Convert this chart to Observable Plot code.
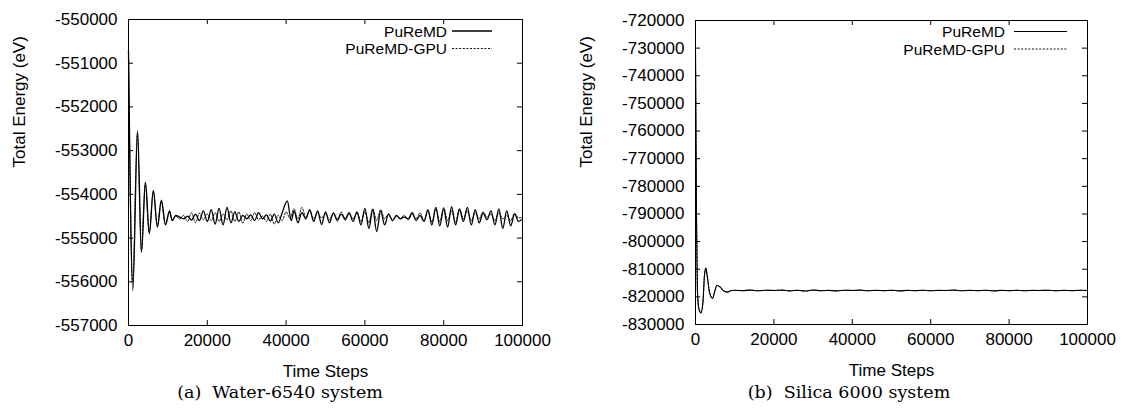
<!DOCTYPE html>
<html><head><meta charset="utf-8">
<script src="https://cdn.jsdelivr.net/npm/d3@7"></script>
<script src="https://cdn.jsdelivr.net/npm/@observablehq/plot@0.6"></script>
<style>
body{margin:0;background:#fff;}
#fig{position:relative;width:1124px;height:417px;overflow:hidden;background:#fff;}
.panel{position:absolute;top:0;width:562px;height:417px;}
.overlay{position:absolute;left:0;top:0;}
</style></head><body>
<div id="fig"></div>
<script>
// ---------- data ----------
const seriesNames = ["PuReMD", "PuReMD-GPU"];
const captions = ["(a)  Water-6540 system", "(b)  Silica 6000 system"];
const xLabel = "Time Steps";
const yLabel = "Total Energy (eV)";
const xTicks = [0, 20000, 40000, 60000, 80000, 100000];
const waterYTicks = [-557000, -556000, -555000, -554000, -553000, -552000, -551000, -550000];
const silicaYTicks = [-830000, -820000, -810000, -800000, -790000, -780000, -770000, -760000, -750000, -740000, -730000, -720000];

const waterSteps = [0, 1100, 2300, 3300, 4300, 5300, 6300, 7350, 8350, 9400, 10400, 11100,
  12000, 13000, 14000, 15000, 16000, 17000, 18000, 19000, 20000, 21000, 22000, 23000, 24000, 25000,
  26000, 27000, 28000, 29000, 30000, 31000, 32000, 33000, 34000, 35000, 36000, 37000, 38000, 39000,
  40300, 41300,
  42000, 43000, 44000, 45000, 46000, 47000, 48000, 49000, 50000, 51000, 52000, 53000, 54000, 55000,
  56000, 57000, 58000, 59000, 60000, 61000, 62000, 63000, 64000, 65000, 66000, 67000, 68000, 69000,
  70000, 71000, 72000, 73000, 74000, 75000, 76000, 77000, 78000, 79000, 80000, 81000, 82000, 83000,
  84000, 85000, 86000, 87000, 88000, 89000, 90000, 91000, 92000, 93000, 94000, 95000, 96000, 97000,
  98000, 99000, 100000];
const waterPuReMD = [-550700, -556200, -552550, -555330, -553720, -554900, -553910, -554750, -554130, -554700, -554380, -554600,
  -554480, -554520, -554560, -554500, -554590, -554450, -554600, -554380, -554620, -554350, -554680, -554320, -554700, -554300,
  -554650, -554400, -554620, -554480, -554560, -554470, -554600, -554420, -554560, -554470, -554610, -554450, -554650, -554420,
  -554150, -554600,
  -554380, -554650, -554420, -554560, -554350, -554620, -554380, -554690, -554400, -554650, -554430, -554580, -554450, -554560,
  -554420, -554620, -554400, -554700, -554320, -554780, -554350, -554850, -554380, -554700, -554450, -554600, -554480, -554560,
  -554520, -554560, -554420, -554600, -554480, -554620, -554350, -554700, -554300, -554720, -554330, -554750, -554280, -554700,
  -554350, -554620, -554300, -554700, -554350, -554650, -554430, -554580, -554380, -554700, -554330, -554780, -554380, -554720,
  -554450, -554620, -554560];

const waterGpuSteps = [0, 1050, 2250, 3250, 4250, 5250, 6300, 7300, 8300, 9350, 10400, 11100,
  12000, 13000, 14000, 15000, 16000, 17000, 18000, 19000, 20000, 21000, 22000, 23000, 24000, 25000,
  26000, 27000, 28000, 29000, 30000, 31000, 32000, 33000, 34000, 35000, 36000, 37000, 38000, 39000,
  40000, 41000, 42000, 43000, 44000, 45000, 46000, 47000, 48000, 49000, 50000, 51000, 52000, 53000,
  54000, 55000, 56000, 57000, 58000, 59000, 60000, 61000, 62000, 63000, 64000, 65000, 66000, 67000,
  68000, 69000, 70000, 71000, 72000, 73000, 74000, 75000, 76000, 77000, 78000, 79000, 80000, 81000,
  82000, 83000, 84000, 85000, 86000, 87000, 88000, 89000, 90000, 91000, 92000, 93000, 94000, 95000,
  96000, 97000, 98000, 99000, 100000];
const waterGpu = [-550800, -556000, -552600, -555300, -553750, -554880, -553930, -554730, -554150, -554690, -554400, -554580,
  -554500, -554560, -554480, -554620, -554420, -554650, -554430, -554580, -554450, -554600, -554420, -554620, -554450, -554580,
  -554380, -554620, -554400, -554660, -554450, -554600, -554420, -554580, -554500, -554620, -554450, -554680, -554480, -554600,
  -554400, -554550, -554330, -554560, -554300, -554520, -554380, -554560, -554420, -554540, -554450, -554580, -554420, -554620,
  -554400, -554600, -554450, -554560, -554420, -554620, -554400, -554650, -554330, -554600, -554350, -554560, -554450, -554600,
  -554500, -554550, -554480, -554580, -554460, -554560, -554420, -554600, -554380, -554640, -554330, -554620, -554300, -554600,
  -554380, -554650, -554320, -554560, -554380, -554600, -554420, -554560, -554400, -554520, -554450, -554600, -554420, -554560,
  -554480, -554600, -554430, -554540, -554520];

const silicaSteps = [0, 250, 500, 900, 1400, 1900, 2300, 2650, 3000, 3600, 4350, 4900, 5500, 6300, 7300, 8200, 9000,
  10000, 12000, 14000, 16000, 18000, 20000, 22000, 24000, 26000, 28000, 30000, 32000, 34000, 36000, 38000,
  40000, 42000, 44000, 46000, 48000, 50000, 52000, 54000, 56000, 58000, 60000, 62000, 64000, 66000, 68000,
  70000, 72000, 74000, 76000, 78000, 80000, 82000, 84000, 86000, 88000, 90000, 92000, 94000, 96000, 98000, 100000];
const silicaPuReMD = [-730500, -790000, -818000, -824500, -825800, -822000, -812000, -809600, -812500, -818500, -820600, -818000, -815800, -816500, -818000, -818300, -817800,
  -817600, -817750, -817550, -817800, -817600, -817700, -817550, -817850, -817600, -817900, -817500, -817800, -817650, -817850, -817600,
  -817700, -817550, -817800, -817650, -817750, -817600, -817850, -817650, -817750, -817600, -817800, -817650, -817700, -817550, -817800,
  -817650, -817750, -817600, -817850, -817650, -817750, -817600, -817800, -817650, -817700, -817600, -817800, -817650, -817750, -817600, -817700];
const silicaGpu = [-731000, -791000, -818500, -824800, -825600, -821800, -812200, -809800, -812700, -818400, -820500, -818100, -815900, -816400, -817900, -818200, -817700,
  -817650, -817700, -817600, -817750, -817650, -817650, -817600, -817800, -817650, -817850, -817550, -817750, -817700, -817800, -817650,
  -817650, -817600, -817750, -817700, -817700, -817650, -817800, -817700, -817700, -817650, -817750, -817700, -817650, -817600, -817750,
  -817700, -817700, -817650, -817800, -817700, -817700, -817650, -817750, -817700, -817650, -817650, -817750, -817700, -817700, -817650, -817650];

// ---------- drawing ----------
const FONT = "'Liberation Sans', Arial, Helvetica, sans-serif";
const TICK = 5;
const W = 562, H = 385;
const fig = document.getElementById("fig");

function rows(steps, values) { return steps.map((t, i) => ({t, e: values[i]})); }

function panel(cfg) {
  const div = document.createElement("div");
  div.className = "panel";
  div.style.left = cfg.offset + "px";
  fig.appendChild(div);
  const fw = W - cfg.ml - cfg.mr, fh = H - cfg.mt - cfg.mb;
  const chart = Plot.plot({
    width: W, height: H,
    marginLeft: cfg.ml, marginRight: cfg.mr, marginTop: cfg.mt, marginBottom: cfg.mb,
    style: {fontFamily: FONT, fontSize: "17px", color: "black", background: "white", overflow: "visible"},
    x: {domain: [0, 100000]},
    y: {domain: cfg.yDomain},
    marks: [
      Plot.line(rows(cfg.gpuSteps, cfg.gpu), {x: "t", y: "e", stroke: "#111", strokeWidth: 1, strokeDasharray: "2,1.6", curve: "monotone-x"}),
      Plot.line(rows(cfg.steps, cfg.solid), {x: "t", y: "e", stroke: "black", strokeWidth: cfg.sw, curve: "monotone-x"}),
      // inward mirrored ticks (gnuplot style)
      Plot.ruleX(xTicks, {x: d => d, insetTop: fh - TICK, stroke: "black"}),
      Plot.ruleX(xTicks, {x: d => d, insetBottom: fh - TICK, stroke: "black"}),
      Plot.ruleY(cfg.yTicks, {y: d => d, insetRight: fw - TICK, stroke: "black"}),
      Plot.ruleY(cfg.yTicks, {y: d => d, insetLeft: fw - TICK, stroke: "black"}),
      Plot.frame({stroke: "black", strokeWidth: 1}),
      Plot.axisX(xTicks, {anchor: "bottom", tickSize: 0, tickPadding: 8, tickFormat: d => String(d), label: null}),
      Plot.axisY(cfg.yTicks, {anchor: "left", tickSize: 0, tickPadding: 11, tickFormat: d => String(d), label: null}),
      Plot.text([xLabel], {text: d => d, frameAnchor: "bottom", dy: 46.5, lineAnchor: "middle", fontSize: 17}),
      Plot.text([yLabel], {text: d => d, frameAnchor: "left", rotate: -90, dx: -109, dy: -5, lineAnchor: "middle", fontSize: 17})
    ]
  });
  div.appendChild(chart);

  // legend + caption overlay
  const ns = "http://www.w3.org/2000/svg";
  const svg = document.createElementNS(ns, "svg");
  svg.setAttribute("class", "overlay");
  svg.setAttribute("width", W);
  svg.setAttribute("height", 417);
  const lg = cfg.legend;
  seriesNames.forEach((name, i) => {
    const y = lg.y[i];
    const t = document.createElementNS(ns, "text");
    t.setAttribute("x", lg.textEnd);
    t.setAttribute("y", y + 5.5);
    t.setAttribute("text-anchor", "end");
    t.setAttribute("font-family", FONT);
    t.setAttribute("font-size", 15.5);
    t.textContent = name;
    svg.appendChild(t);
    const l = document.createElementNS(ns, "line");
    l.setAttribute("x1", lg.x1); l.setAttribute("x2", lg.x2);
    l.setAttribute("y1", y); l.setAttribute("y2", y);
    l.setAttribute("stroke", i === 0 ? "black" : "#111");
    l.setAttribute("stroke-width", i === 0 ? cfg.sw : 1);
    if (i === 1) l.setAttribute("stroke-dasharray", "2,1.6");
    svg.appendChild(l);
  });
  const c = document.createElementNS(ns, "text");
  c.setAttribute("x", cfg.capX);
  c.setAttribute("y", 398);
  c.setAttribute("text-anchor", "middle");
  c.setAttribute("font-family", "'DejaVu Serif', serif");
  c.setAttribute("font-size", 17.5);
  c.setAttribute("xml:space", "preserve");
  c.style.whiteSpace = "pre";
  c.textContent = cfg.caption;
  svg.appendChild(c);
  div.appendChild(svg);
}

panel({
  offset: 0, ml: 128, mr: 40, mt: 19, mb: 60,
  yDomain: [-557000, -550000], yTicks: waterYTicks,
  steps: waterSteps, solid: waterPuReMD, gpuSteps: waterGpuSteps, gpu: waterGpu, sw: 1.3,
  legend: {textEnd: 447, x1: 452, x2: 492, y: [31, 48.5]},
  capX: 280, caption: captions[0]
});
panel({
  offset: 562, ml: 133, mr: 37, mt: 20, mb: 61,
  yDomain: [-830000, -720000], yTicks: silicaYTicks,
  steps: silicaSteps, solid: silicaPuReMD, gpuSteps: silicaSteps, gpu: silicaGpu, sw: 1.1,
  legend: {textEnd: 443, x1: 452, x2: 505, y: [31.5, 49]},
  capX: 287, caption: captions[1]
});
</script>
</body></html>
